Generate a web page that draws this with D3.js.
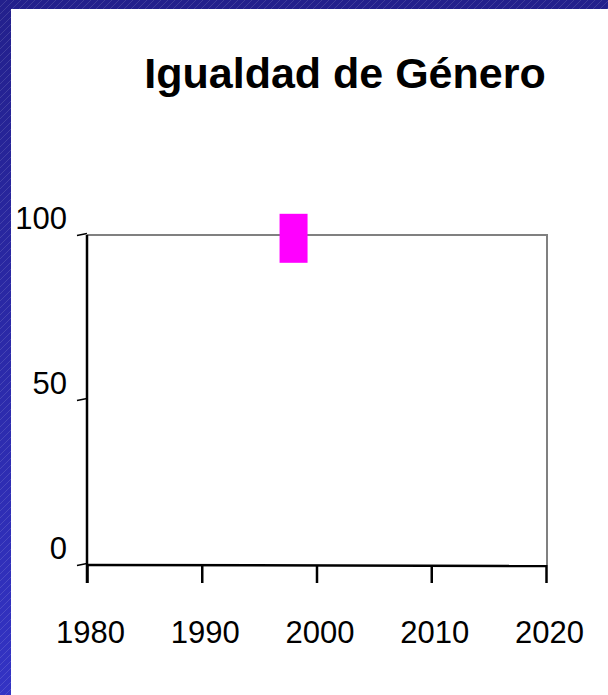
<!DOCTYPE html>
<html>
<head>
<meta charset="utf-8">
<script src="https://cdn.jsdelivr.net/npm/d3@7"></script>
<style>
  body { margin: 0; padding: 0; }
  svg { display: block; }
  text { font-family: "Liberation Sans", Arial, sans-serif; }
</style>
</head>
<body>
<div class="chart"></div>
<script>
// data
var years = [1998];
var values = [99];
var xTicks = [1980, 1990, 2000, 2010, 2020];
var yTicks = [0, 50, 100];
var title = "Igualdad de Género";

var svgWidth = 608;
var svgHeight = 695;
var plot = {left: 87, right: 546, top: 235, bottom: 565};

var svg = d3.select('.chart').append('svg')
    .attr('width', svgWidth).attr('height', svgHeight);

// blue hatched background frame
var defs = svg.append('defs');
var grad = defs.append('linearGradient').attr('id', 'bg').attr('x1', 0).attr('y1', 0).attr('x2', 0).attr('y2', 1);
grad.append('stop').attr('offset', '0%').attr('stop-color', '#23208c');
grad.append('stop').attr('offset', '100%').attr('stop-color', '#3333c4');
var pat = defs.append('pattern').attr('id', 'hatch').attr('patternUnits', 'userSpaceOnUse')
    .attr('width', 7).attr('height', 7);
pat.append('path').attr('d', 'M0,7 L7,0').attr('stroke', 'rgba(255,255,255,0.25)').attr('stroke-width', 0.5);

svg.append('rect').attr('width', svgWidth).attr('height', svgHeight).attr('fill', 'url(#bg)');
svg.append('rect').attr('width', svgWidth).attr('height', svgHeight).attr('fill', 'url(#hatch)');
svg.append('rect').attr('x', 11).attr('y', 9).attr('width', svgWidth - 11).attr('height', svgHeight - 9).attr('fill', '#fff');

// title
svg.append('text').attr('x', 345).attr('y', 88).attr('text-anchor', 'middle')
    .attr('font-size', '43px').attr('font-weight', 'bold').text(title);

var xScale = d3.scaleLinear().domain([1980, 2020]).range([plot.left, plot.right]);
var yScale = d3.scaleLinear().domain([0, 100]).range([plot.bottom, plot.top]);

// gray frame (top + right)
svg.append('path')
    .attr('d', `M${plot.left},${plot.top} H${plot.right + 1} V${plot.bottom}`)
    .attr('fill', 'none').attr('stroke', '#808080').attr('stroke-width', 2);

// x axis
var xAxis = d3.axisBottom(xScale).tickValues(xTicks).tickFormat(d3.format('d')).tickSize(18).tickPadding(38);
var gx = svg.append('g').attr('transform', `translate(0, ${plot.bottom})`).call(xAxis);
gx.attr('font-size', 31).attr('font-family', '"Liberation Sans", Arial, sans-serif');
gx.select('.domain').attr('d', `M${plot.left},0 L${plot.right + 1},1`).attr('stroke', '#000').attr('stroke-width', 2.5);
gx.selectAll('.tick line').attr('stroke', '#000').attr('stroke-width', 2.5);
gx.selectAll('.tick text').attr('fill', '#000').attr('dx', 3);

// y axis
var yAxis = d3.axisLeft(yScale).tickValues(yTicks).tickSize(10).tickPadding(0);
var gy = svg.append('g').attr('transform', `translate(${plot.left}, 0)`).call(yAxis);
gy.attr('font-size', 31).attr('font-family', '"Liberation Sans", Arial, sans-serif');
gy.select('.domain').attr('d', `M0,${plot.top} V${plot.bottom + 18}`).attr('stroke', '#000').attr('stroke-width', 2.5);
gy.selectAll('.tick line').attr('y1', -2).attr('stroke', '#000').attr('stroke-width', 1.5);
gy.selectAll('.tick text').attr('fill', '#000').attr('x', -20).attr('dy', -7);

// data marker
var markW = 28, markH = 49;
svg.selectAll('.mark').data(years).enter().append('rect')
    .attr('class', 'mark')
    .attr('x', function(d) { return xScale(d) - markW / 2; })
    .attr('y', function(d, i) { return yScale(values[i]) - markH / 2; })
    .attr('width', markW).attr('height', markH)
    .attr('fill', '#ff00ff');
</script>
</body>
</html>
